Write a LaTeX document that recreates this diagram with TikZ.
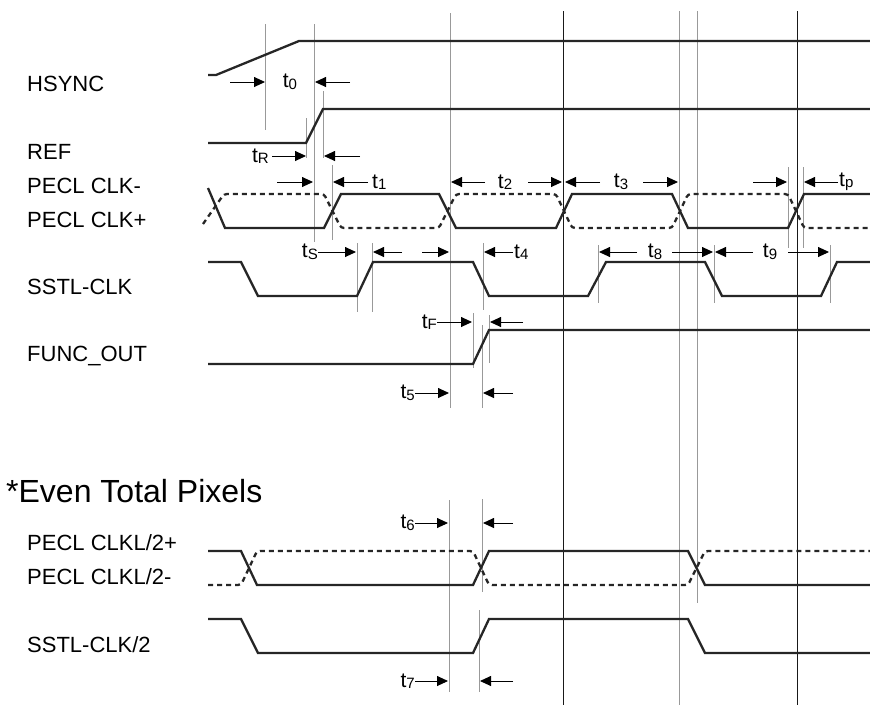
\documentclass[tikz,border=0pt]{standalone}
\usepackage{fontspec}
\setmainfont{Liberation Sans}
\usetikzlibrary{arrows.meta}
\newcommand{\tsub}[1]{t\raisebox{-1.5pt}{\fontsize{15}{15}\selectfont #1}}
\begin{document}
\begin{tikzpicture}[x=1pt,y=-1pt,
 sig/.style={line width=2.3pt, line join=miter, color=black!85},
 dsig/.style={sig, dash pattern=on 5pt off 4pt, rounded corners=3pt},
 gl/.style={line width=0.8pt, color=black!40},
 bl/.style={line width=0.9pt, color=black!90},
 dim/.style={line width=0.9pt, -{Triangle[length=11pt,width=10pt]}},
 lab/.style={anchor=west, font=\fontsize{22}{24}\selectfont, inner sep=0pt},
 tlab/.style={font=\fontsize{21}{23}\selectfont, inner sep=0pt}]
\useasboundingbox (0,0) rectangle (870,705);

% ---- vertical reference lines
\draw[gl] (265,24) -- (265,130);
\draw[gl] (314,24) -- (314,242);
\draw[gl] (306,118) -- (306,158);
\draw[gl] (323,91) -- (323,158);
\draw[gl] (332,165) -- (332,240);
\draw[gl] (450,13) -- (450,408);
\draw[bl] (563,11) -- (563,705);
\draw[gl] (679,11) -- (679,705);
\draw[gl] (697,11) -- (697,603);
\draw[bl] (797,11) -- (797,705);
\draw[gl] (788,167) -- (788,248);
\draw[gl] (803,167) -- (803,248);
\draw[gl] (357,243) -- (357,312);
\draw[gl] (372,243) -- (372,312);
\draw[gl] (483,243) -- (483,310);
\draw[gl] (598,245) -- (598,303);
\draw[gl] (714,245) -- (714,303);
\draw[gl] (830,245) -- (830,303);
\draw[gl] (473,313) -- (473,368);
\draw[gl] (482,325) -- (482,408);
\draw[gl] (489,315) -- (489,363);
\draw[gl] (449,500) -- (449,692);
\draw[gl] (482,499) -- (482,592);
\draw[gl] (479,610) -- (479,692);

% ---- signals
\draw[sig] (208,75) -- (216,75) -- (299,41) -- (870,41);
\draw[sig] (208,143) -- (306,143) -- (323,109) -- (870,109);
\draw[sig] (208,188) -- (225,228) -- (324,228) -- (341,194) -- (439,194) -- (456,228) -- (556,228) -- (572,194) -- (672,194) -- (688,228) -- (788,228) -- (804,194) -- (870,194);
\draw[dsig] (203,224) -- (224,194) -- (324,194) -- (341,228) -- (439,228) -- (456,194) -- (556,194) -- (572,228) -- (672,228) -- (688,194) -- (788,194) -- (804,228) -- (870,228);
\draw[sig] (208,262) -- (241,262) -- (258,296) -- (357,296) -- (373,262) -- (473,262) -- (489,296) -- (588,296) -- (606,262) -- (705,262) -- (722,296) -- (821,296) -- (837,262) -- (870,262);
\draw[sig] (208,364) -- (473,364) -- (489,330) -- (870,330);
\draw[sig] (208,551) -- (241,551) -- (257,585) -- (473,585) -- (489,551) -- (688,551) -- (705,585) -- (870,585);
\draw[dsig] (208,585) -- (241,585) -- (257,551) -- (473,551) -- (489,585) -- (688,585) -- (705,551) -- (870,551);
\draw[sig] (208,619) -- (241,619) -- (258,653) -- (473,653) -- (489,619) -- (688,619) -- (705,653) -- (870,653);

% ---- signal names
\node[lab] (hsync) at (27,84) {HSYNC};
\node[lab] (ref) at (27,152) {REF};
\node[lab] (pclkm) at (27,186) {PECL CLK-};
\node[lab] (pclkp) at (27,220) {PECL CLK+};
\node[lab] (sstl) at (27,287) {SSTL-CLK};
\node[lab] (func) at (27,356) {FUNC\_OUT};
\node[anchor=west, font=\fontsize{32}{34}\selectfont, inner sep=0pt] (even) at (6,491) {*Even Total Pixels};
\node[lab] (p2p) at (27,543) {PECL CLKL/2+};
\node[lab] (p2m) at (27,577) {PECL CLKL/2-};
\node[lab] (sstl2) at (27,645) {SSTL-CLK/2};

% ---- timing arrows and labels
\draw[dim] (230,82) -- (265,82);
\draw[dim] (350,82) -- (315,82);
\node[tlab] (t0) at (290,82) {\tsub{0}};

\draw[dim] (272,156) -- (306,156);
\draw[dim] (360,156) -- (324,156);
\node[tlab, anchor=east] (tR) at (269,156) {\tsub{R}};

\draw[dim] (277,182) -- (313,182);
\draw[dim] (368,182) -- (333,182);
\node[tlab, anchor=west] (t1) at (372,182) {\tsub{1}};
\draw[dim] (485,182) -- (451,182);
\node[tlab] (t2) at (505,182) {\tsub{2}};
\draw[dim] (528,182) -- (562,182);
\draw[dim] (600,182) -- (565,182);
\node[tlab] (t3) at (621,182) {\tsub{3}};
\draw[dim] (643,182) -- (678,182);
\draw[dim] (753,182) -- (787,182);
\draw[dim] (838,182) -- (804,182);
\node[tlab, anchor=west] (tp) at (839,182) {\tsub{p}};

\node[tlab, anchor=east] (tS) at (318,252) {\tsub{S}};
\draw[dim] (318,252) -- (356,252);
\draw[dim] (402,252) -- (373,252);
\draw[dim] (422,252) -- (449,252);
\draw[dim] (513,252) -- (484,252);
\node[tlab, anchor=west] (t4) at (514,252) {\tsub{4}};

\draw[dim] (637,252) -- (599,252);
\node[tlab] (t8) at (655,252) {\tsub{8}};
\draw[dim] (672,252) -- (713,252);
\draw[dim] (753,252) -- (715,252);
\node[tlab] (t9) at (770,252) {\tsub{9}};
\draw[dim] (788,252) -- (829,252);

\node[tlab, anchor=east] (tF) at (437,322) {\tsub{F}};
\draw[dim] (437,322) -- (472,322);
\draw[dim] (523,322) -- (490,322);

\node[tlab, anchor=east] (t5) at (415,393) {\tsub{5}};
\draw[dim] (415,393) -- (449,393);
\draw[dim] (513,393) -- (483,393);

\node[tlab, anchor=east] (t6) at (415,523) {\tsub{6}};
\draw[dim] (415,523) -- (448,523);
\draw[dim] (513,523) -- (483,523);

\node[tlab, anchor=east] (t7) at (415,681) {\tsub{7}};
\draw[dim] (415,681) -- (448,681);
\draw[dim] (513,681) -- (480,681);
\end{tikzpicture}
\end{document}
